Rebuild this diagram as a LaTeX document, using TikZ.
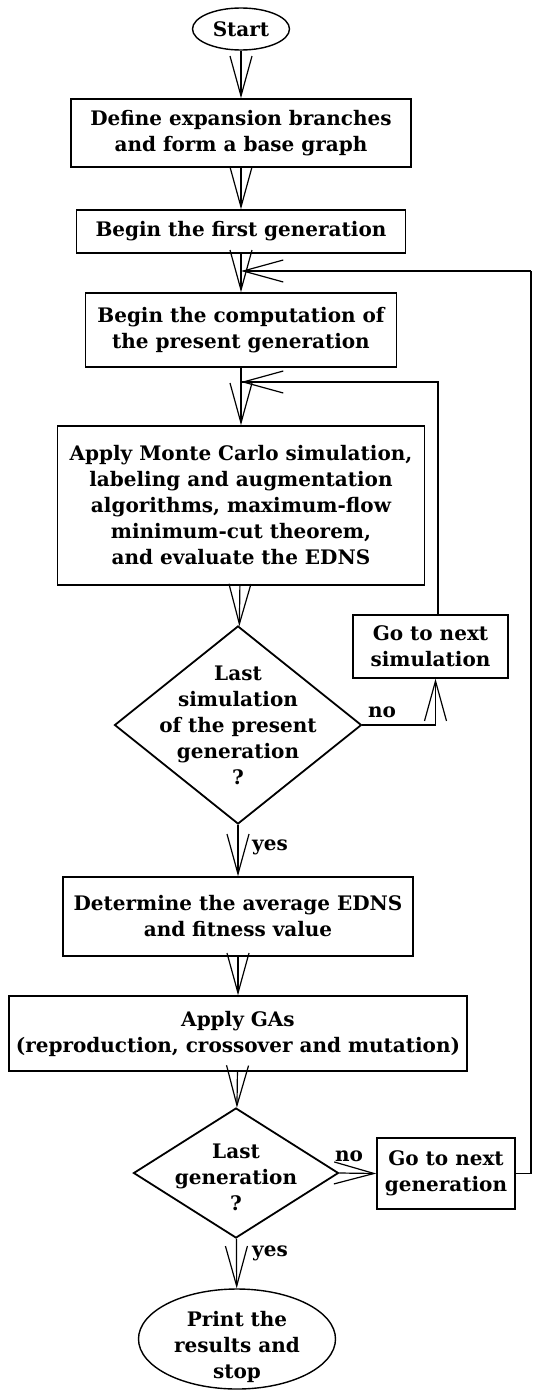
\documentclass[tikz,border=0pt]{standalone}
\usepackage{fontspec}
\setmainfont{DejaVu Serif}
\usetikzlibrary{shapes.geometric}
\usetikzlibrary{arrows.meta}

\begin{document}
\begin{tikzpicture}[x=0.5pt,y=-0.5pt,
  font=\bfseries\fontsize{10}{13}\selectfont,
  box/.style={draw,line width=0.7pt,inner sep=0pt,align=center},
  term/.style={draw,ellipse,line width=0.7pt,inner sep=0pt,align=center},
  ask/.style={draw,diamond,line width=0.9pt,inner sep=0pt},
  flow/.style={line width=0.6pt,-{Straight Barb[length=20pt,width=11pt,line width=0.6pt]}}]
  \useasboundingbox (0,0) rectangle (533,1392);

  \node[term,minimum width=48.5pt,minimum height=21pt] (start) at (241,29) {Start};
  \node[box,minimum width=170pt,minimum height=34pt] (base) at (241,133) {Define expansion branches\\and form a base graph};
  \node[box,minimum width=164.5pt,minimum height=21.5pt] (first) at (241,231.5) {Begin the first generation};
  \node[box,minimum width=155.5pt,minimum height=37pt] (present) at (241,330) {Begin the computation of\\the present generation};
  \node[box,minimum width=183.5pt,minimum height=79.5pt] (mc) at (241,505.5) {Apply Monte Carlo simulation,\\labeling and augmentation\\algorithms, maximum-flow\\minimum-cut theorem,\\and evaluate the EDNS};

  \node[ask,minimum width=123.5pt,minimum height=99pt] (simq) at (238,725) {};
  \node[align=center] (simqtxt) at (simq) {Last\\simulation\\of the present\\generation\\?};
  \node[box,minimum width=77.5pt,minimum height=31.5pt] (nextsim) at (430.5,646.5) {Go to next\\simulation};

  \node[box,minimum width=175pt,minimum height=39.5pt] (avg) at (238,916.5) {Determine the average EDNS\\and fitness value};
  \node[box,minimum width=229pt,minimum height=37.5pt] (ga) at (238,1033.5) {Apply GAs\\(reproduction, crossover and mutation)};

  \node[ask,minimum width=102.5pt,minimum height=65pt] (genq) at (236,1173) {};
  \node[align=center] (genqtxt) at ([yshift=-2pt]genq) {Last\\generation\\?};
  \node[box,minimum width=69pt,minimum height=35.5pt] (nextgen) at (446,1173.5) {Go to next\\generation};

  \node[term,minimum width=98.5pt,minimum height=50pt] (stop) at (237,1339) {};
  \node[align=center] (stoptxt) at ([yshift=-4pt]stop) {Print the\\results and\\stop};

  % yes / no labels
  \node (no1) at (382,712) {no};
  \node (yes1) at (270,847) {yes};
  \node (no2) at (349,1156) {no};
  \node (yes2) at (270,1253) {yes};

  % main line
  \draw[flow] (start) -- (base);
  \draw[flow] (base) -- (first);
  \draw[flow] (first) -- (present);
  \draw[flow] (present) -- (mc);
  \draw[flow] (mc) -- (simq);
  \draw[flow] (simq) -- (avg);
  \draw[flow] (avg) -- (ga);
  \draw[flow] (ga) -- (genq);
  \draw[flow] (genq) -- (stop);

  % loops
  \coordinate (j1) at (241,271);
  \coordinate (j2) at (241,382);
  \coordinate (rt) at (531,271);
  \draw[flow] (simq.east) -| ([xshift=2.5pt]nextsim.south);
  \draw[line width=0.6pt] ([xshift=3.75pt]nextsim.north) |- (j2);
  \draw[flow] ([xshift=3.75pt]nextsim.north |- j2) -- (j2);
  \draw[flow] (genq.east) -- (nextgen.west);
  \draw[line width=0.6pt] (nextgen.east) -| (rt);
  \draw[flow] (rt) -- (j1);
\end{tikzpicture}
\end{document}
